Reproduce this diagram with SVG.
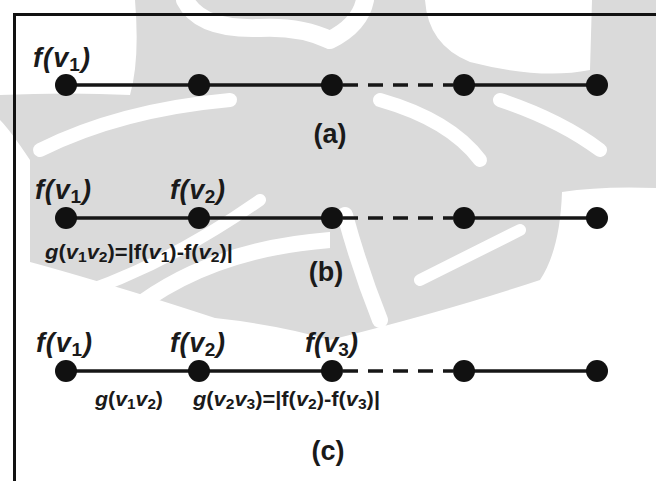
<svg xmlns="http://www.w3.org/2000/svg" width="656" height="481" viewBox="0 0 656 481">
  <style>
    .edge { stroke: #161616; stroke-width: 3.5; fill: none; }
    .dash { stroke-dasharray: 15 10; }
    .node { fill: #111; }
    .lbl { font-family: "Liberation Sans", Arial, sans-serif; font-weight: bold; font-style: italic; font-size: 27px; fill: #1a1a1a; }
    .eq { font-family: "Liberation Sans", Arial, sans-serif; font-weight: bold; font-size: 21px; fill: #1a1a1a; }
    .cap { font-family: "Liberation Sans", Arial, sans-serif; font-weight: bold; font-size: 27px; fill: #1a1a1a; text-anchor: middle; }
    .it { font-style: italic; }
    .up { font-style: normal; }
    .wm { fill: #dadada; }
    .wmw { fill: none; stroke: #ffffff; stroke-linecap: round; }
  </style>
  <rect width="656" height="481" fill="#ffffff"/>

  <!-- background emblem shading -->
  <g id="emblem">
    <g id="emblem-left">
      <path class="wm" d="M135 0 L330 0 L330 340 Q280 325 215 318 Q160 300 120 288 Q60 270 30 262 L30 160 Q10 130 0 120 L0 95 Q70 92 130 95 Q140 60 135 0 Z"/>
      <path class="wmw" stroke-width="18" d="M185 0 Q200 30 260 28 Q300 26 330 40"/>
      <path class="wmw" stroke-width="14" d="M40 150 Q120 110 230 100"/>
      <path class="wmw" stroke-width="16" d="M120 320 Q200 250 330 240"/>
      <path class="wmw" stroke-width="12" d="M60 300 Q160 270 260 200"/>
    </g>
    <g id="emblem-right">
      <path class="wm" d="M330 0 L425 0 Q428 45 470 62 Q540 80 590 70 L592 0 L656 0 L656 188 Q600 186 562 192 Q560 250 540 280 Q450 310 330 340 Z"/>
      <path class="wmw" stroke-width="18" d="M365 0 Q360 25 330 40"/>
      <path class="wmw" stroke-width="14" d="M380 100 Q450 120 480 160"/>
      <path class="wmw" stroke-width="14" d="M500 100 Q560 120 600 150"/>
      <path class="wmw" stroke-width="16" d="M345 215 Q360 270 380 320"/>
      <path class="wmw" stroke-width="12" d="M420 280 Q480 250 520 230"/>
    </g>
  </g>

  <!-- frame -->
  <path d="M14.5 481 L14.5 14.5 L656 14.5" stroke="#111" stroke-width="3" fill="none"/>

  <!-- connectors -->
  <g id="connectors">
    <line class="edge" x1="66" y1="85" x2="332" y2="85"/>
    <line class="edge dash" x1="343" y1="85" x2="453" y2="85"/>
    <line class="edge" x1="464" y1="85" x2="597" y2="85"/>
    <line class="edge" x1="66" y1="218" x2="332" y2="218"/>
    <line class="edge dash" x1="343" y1="218" x2="453" y2="218"/>
    <line class="edge" x1="464" y1="218" x2="597" y2="218"/>
    <line class="edge" x1="66" y1="371" x2="332" y2="371"/>
    <line class="edge dash" x1="343" y1="371" x2="453" y2="371"/>
    <line class="edge" x1="464" y1="371" x2="597" y2="371"/>
  </g>

  <!-- path (a) -->
  <g id="a-v1"><circle class="node" cx="66" cy="85" r="11"/>
    <text class="lbl" x="33" y="67" textLength="57" lengthAdjust="spacing">f(v<tspan class="up" font-size="19" dy="4">1</tspan><tspan dy="-4">)</tspan></text></g>
  <g id="a-v2"><circle class="node" cx="199" cy="85" r="11"/></g>
  <g id="a-v3"><circle class="node" cx="332" cy="85" r="11"/></g>
  <g id="a-v4"><circle class="node" cx="464" cy="85" r="11"/></g>
  <g id="a-v5"><circle class="node" cx="597" cy="85" r="11"/></g>
  <text class="cap" x="330" y="143">(a)</text>

  <!-- path (b) -->
  <g id="b-v1"><circle class="node" cx="66" cy="218" r="11"/>
    <text class="lbl" x="35" y="199" textLength="56" lengthAdjust="spacing">f(v<tspan class="up" font-size="19" dy="4">1</tspan><tspan dy="-4">)</tspan></text></g>
  <g id="b-v2"><circle class="node" cx="199" cy="218" r="11"/>
    <text class="lbl" x="170" y="199" textLength="55" lengthAdjust="spacing">f(v<tspan class="up" font-size="19" dy="4">2</tspan><tspan dy="-4">)</tspan></text></g>
  <g id="b-v3"><circle class="node" cx="332" cy="218" r="11"/></g>
  <g id="b-v4"><circle class="node" cx="464" cy="218" r="11"/></g>
  <g id="b-v5"><circle class="node" cx="597" cy="218" r="11"/></g>
  <text class="eq" x="45" y="259" textLength="188" lengthAdjust="spacingAndGlyphs"><tspan class="it">g</tspan>(<tspan class="it">v</tspan><tspan font-size="15" dy="3">1</tspan><tspan class="it" dy="-3">v</tspan><tspan font-size="15" dy="3">2</tspan><tspan dy="-3">)=|f(</tspan><tspan class="it">v</tspan><tspan font-size="15" dy="3">1</tspan><tspan dy="-3">)-f(</tspan><tspan class="it">v</tspan><tspan font-size="15" dy="3">2</tspan><tspan dy="-3">)|</tspan></text>
  <text class="cap" x="326" y="281">(b)</text>

  <!-- path (c) -->
  <g id="c-v1"><circle class="node" cx="66" cy="371" r="11"/>
    <text class="lbl" x="36" y="352" textLength="56" lengthAdjust="spacing">f(v<tspan class="up" font-size="19" dy="4">1</tspan><tspan dy="-4">)</tspan></text></g>
  <g id="c-v2"><circle class="node" cx="199" cy="371" r="11"/>
    <text class="lbl" x="170" y="352" textLength="55" lengthAdjust="spacing">f(v<tspan class="up" font-size="19" dy="4">2</tspan><tspan dy="-4">)</tspan></text></g>
  <g id="c-v3"><circle class="node" cx="332" cy="371" r="11"/>
    <text class="lbl" x="305" y="352" textLength="53" lengthAdjust="spacing">f(v<tspan class="up" font-size="19" dy="4">3</tspan><tspan dy="-4">)</tspan></text></g>
  <g id="c-v4"><circle class="node" cx="464" cy="371" r="11"/></g>
  <g id="c-v5"><circle class="node" cx="597" cy="371" r="11"/></g>
  <text class="eq" x="95" y="406" textLength="68" lengthAdjust="spacingAndGlyphs"><tspan class="it">g</tspan>(<tspan class="it">v</tspan><tspan font-size="15" dy="3">1</tspan><tspan class="it" dy="-3">v</tspan><tspan font-size="15" dy="3">2</tspan><tspan dy="-3">)</tspan></text>
  <text class="eq" x="193" y="406" textLength="187" lengthAdjust="spacingAndGlyphs"><tspan class="it">g</tspan>(<tspan class="it">v</tspan><tspan font-size="15" dy="3">2</tspan><tspan class="it" dy="-3">v</tspan><tspan font-size="15" dy="3">3</tspan><tspan dy="-3">)=|f(</tspan><tspan class="it">v</tspan><tspan font-size="15" dy="3">2</tspan><tspan dy="-3">)-f(</tspan><tspan class="it">v</tspan><tspan font-size="15" dy="3">3</tspan><tspan dy="-3">)|</tspan></text>
  <text class="cap" x="328" y="460">(c)</text>
</svg>
